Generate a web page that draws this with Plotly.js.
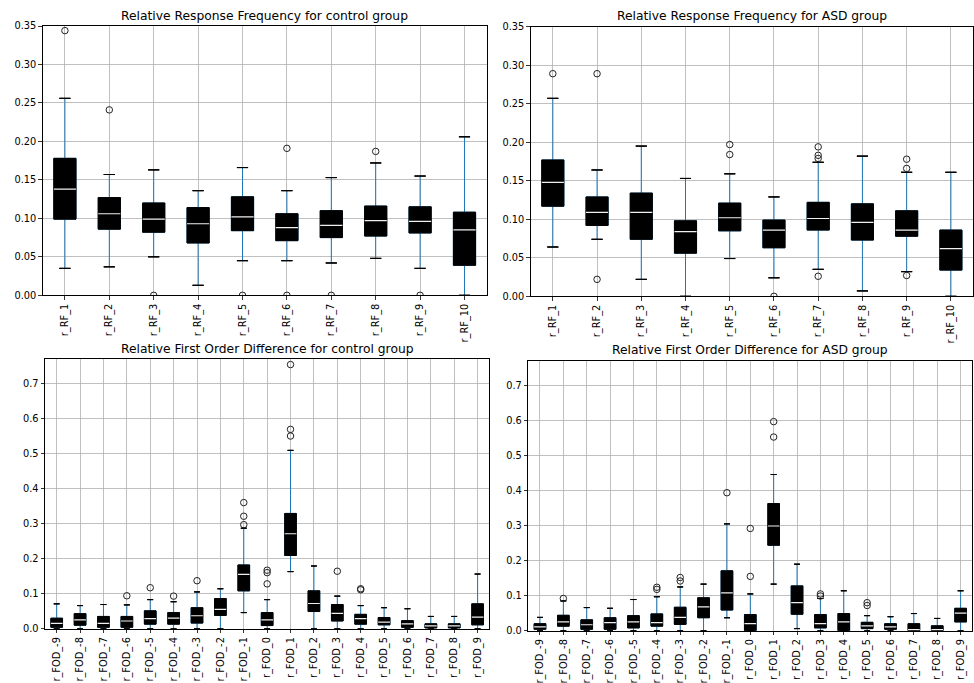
<!DOCTYPE html>
<html>
<head>
<meta charset="utf-8">
<script src="https://cdn.plot.ly/plotly-3.0.1.min.js"></script>
<style>html,body{margin:0;padding:0;background:#fff;}#chart{width:974px;height:683px;}</style>
</head>
<body>
<div id="chart"></div>
<script>
// ---------- Data ----------
const rfCats = ['r_RF_1','r_RF_2','r_RF_3','r_RF_4','r_RF_5','r_RF_6','r_RF_7','r_RF_8','r_RF_9','r_RF_10'];

const rfCtrlLo  = [0.035, 0.037, 0.050, 0.013, 0.045, 0.045, 0.042, 0.048, 0.035, 0.000];
const rfCtrlQ1  = [0.099, 0.086, 0.082, 0.068, 0.084, 0.071, 0.075, 0.077, 0.081, 0.039];
const rfCtrlMed = [0.138, 0.106, 0.099, 0.093, 0.102, 0.088, 0.091, 0.097, 0.096, 0.085];
const rfCtrlQ3  = [0.178, 0.127, 0.120, 0.114, 0.128, 0.106, 0.110, 0.116, 0.115, 0.108];
const rfCtrlHi  = [0.256, 0.157, 0.163, 0.136, 0.166, 0.136, 0.153, 0.172, 0.155, 0.206];
const rfCtrlOutX = ['r_RF_1','r_RF_2','r_RF_3','r_RF_5','r_RF_6','r_RF_6','r_RF_7','r_RF_8','r_RF_9'];
const rfCtrlOutY = [0.344, 0.241, 0.000, 0.000, 0.191, 0.000, 0.000, 0.187, 0.000];

const rfAsdLo  = [0.064, 0.074, 0.022, 0.000, 0.049, 0.024, 0.035, 0.007, 0.032, 0.000];
const rfAsdQ1  = [0.117, 0.092, 0.074, 0.056, 0.085, 0.063, 0.086, 0.073, 0.078, 0.034];
const rfAsdMed = [0.148, 0.109, 0.109, 0.084, 0.102, 0.086, 0.101, 0.096, 0.086, 0.062];
const rfAsdQ3  = [0.177, 0.129, 0.134, 0.098, 0.121, 0.099, 0.122, 0.120, 0.111, 0.086];
const rfAsdHi  = [0.257, 0.164, 0.195, 0.153, 0.159, 0.129, 0.174, 0.182, 0.161, 0.161];
const rfAsdOutX = ['r_RF_1','r_RF_2','r_RF_2','r_RF_5','r_RF_5','r_RF_6','r_RF_7','r_RF_7','r_RF_7','r_RF_7','r_RF_9','r_RF_9','r_RF_9'];
const rfAsdOutY = [0.289, 0.289, 0.022, 0.197, 0.184, 0.000, 0.194, 0.183, 0.179, 0.026, 0.178, 0.166, 0.027];

const fodCats = ['r_FOD_-9','r_FOD_-8','r_FOD_-7','r_FOD_-6','r_FOD_-5','r_FOD_-4','r_FOD_-3','r_FOD_-2','r_FOD_-1','r_FOD_0',
                 'r_FOD_1','r_FOD_2','r_FOD_3','r_FOD_4','r_FOD_5','r_FOD_6','r_FOD_7','r_FOD_8','r_FOD_9'];

const fodCtrlLo  = [0, 0, 0, 0, 0, 0, 0, 0, 0.046, 0, 0.163, 0, 0, 0, 0, 0, 0, 0, 0];
const fodCtrlQ1  = [0.004, 0.010, 0.004, 0.004, 0.013, 0.013, 0.016, 0.038, 0.108, 0.009, 0.209, 0.049, 0.022, 0.013, 0.011, 0.004, 0.002, 0.002, 0.011];
const fodCtrlMed = [0.015, 0.025, 0.015, 0.022, 0.029, 0.030, 0.037, 0.055, 0.155, 0.025, 0.271, 0.072, 0.044, 0.029, 0.019, 0.014, 0.008, 0.008, 0.033];
const fodCtrlQ3  = [0.030, 0.043, 0.035, 0.035, 0.051, 0.046, 0.060, 0.086, 0.182, 0.046, 0.329, 0.108, 0.069, 0.041, 0.032, 0.023, 0.014, 0.014, 0.071];
const fodCtrlHi  = [0.071, 0.066, 0.069, 0.068, 0.083, 0.077, 0.105, 0.114, 0.287, 0.083, 0.509, 0.179, 0.093, 0.066, 0.060, 0.057, 0.035, 0.035, 0.156];
const fodCtrlOutX = ['r_FOD_-6','r_FOD_-5','r_FOD_-4','r_FOD_-3','r_FOD_-1','r_FOD_-1','r_FOD_-1','r_FOD_0','r_FOD_0','r_FOD_0','r_FOD_1','r_FOD_1','r_FOD_1','r_FOD_3','r_FOD_4','r_FOD_4'];
const fodCtrlOutY = [0.094, 0.117, 0.093, 0.137, 0.360, 0.321, 0.297, 0.167, 0.160, 0.128, 0.754, 0.569, 0.550, 0.164, 0.114, 0.111];

const fodAsdLo  = [0, 0, 0, 0, 0, 0, 0, 0, 0.037, 0, 0.133, 0.006, 0, 0, 0, 0, 0, 0, 0];
const fodAsdQ1  = [0.004, 0.013, 0.004, 0.004, 0.008, 0.013, 0.018, 0.037, 0.059, 0.000, 0.244, 0.047, 0.008, 0.000, 0.006, 0.004, 0.000, 0.000, 0.025];
const fodAsdMed = [0.011, 0.025, 0.017, 0.023, 0.025, 0.023, 0.038, 0.068, 0.108, 0.020, 0.299, 0.080, 0.020, 0.025, 0.014, 0.011, 0.003, 0.003, 0.050];
const fodAsdQ3  = [0.020, 0.044, 0.031, 0.037, 0.043, 0.048, 0.067, 0.094, 0.171, 0.046, 0.363, 0.128, 0.046, 0.049, 0.024, 0.020, 0.020, 0.014, 0.064];
const fodAsdHi  = [0.038, 0.085, 0.066, 0.064, 0.089, 0.097, 0.125, 0.133, 0.305, 0.105, 0.446, 0.190, 0.092, 0.114, 0.043, 0.040, 0.049, 0.035, 0.114];
const fodAsdOutX = ['r_FOD_-8','r_FOD_-4','r_FOD_-4','r_FOD_-3','r_FOD_-3','r_FOD_-1','r_FOD_0','r_FOD_0','r_FOD_1','r_FOD_1','r_FOD_3','r_FOD_3','r_FOD_5','r_FOD_5'];
const fodAsdOutY = [0.092, 0.124, 0.118, 0.152, 0.142, 0.394, 0.292, 0.155, 0.597, 0.553, 0.105, 0.099, 0.080, 0.072];

const titles = ['Relative Response Frequency for control group', 'Relative Response Frequency for ASD group',
                'Relative First Order Difference for control group', 'Relative First Order Difference for ASD group'];

// ---------- Build ----------
const W = 974, H = 683;
const FONT = 'DejaVu Sans, Liberation Sans, sans-serif';
const BLUE = '#1f77b4';

function panel(xa, ya, cats, lo, q1, med, q3, hi, ox, oy) {
  const base = {type: 'box', x: cats, xaxis: xa, yaxis: ya, hoverinfo: 'skip', showlegend: false};
  return [
    // whiskers
    Object.assign({}, base, {q1: q1, median: med, q3: q3, lowerfence: lo, upperfence: hi,
      width: 0.5, whiskerwidth: 0, line: {color: BLUE, width: 1}, fillcolor: 'black'}),
    // upper caps
    Object.assign({}, base, {q1: hi, median: hi, q3: hi, lowerfence: hi, upperfence: hi,
      width: 0.25, whiskerwidth: 0, line: {color: 'black', width: 1}, fillcolor: 'black'}),
    // lower caps
    Object.assign({}, base, {q1: lo, median: lo, q3: lo, lowerfence: lo, upperfence: lo,
      width: 0.25, whiskerwidth: 0, line: {color: 'black', width: 1}, fillcolor: 'black'}),
    // box body
    Object.assign({}, base, {q1: q1, median: med, q3: q3, lowerfence: q1, upperfence: q3,
      width: 0.5, whiskerwidth: 0, line: {color: 'black', width: 1}, fillcolor: 'black'}),
    // median
    Object.assign({}, base, {q1: med, median: med, q3: med, lowerfence: med, upperfence: med,
      width: 0.5, whiskerwidth: 0, line: {color: '#f0f0f0', width: 1.2}, fillcolor: 'white'}),
    // fliers
    {type: 'scatter', mode: 'markers', x: ox, y: oy, xaxis: xa, yaxis: ya, hoverinfo: 'skip', showlegend: false,
      marker: {symbol: 'circle-open', size: 6.5, color: '#222', line: {width: 1, color: '#222'}}}
  ];
}

const data = [].concat(
  panel('x', 'y', rfCats, rfCtrlLo, rfCtrlQ1, rfCtrlMed, rfCtrlQ3, rfCtrlHi, rfCtrlOutX, rfCtrlOutY),
  panel('x2', 'y2', rfCats, rfAsdLo, rfAsdQ1, rfAsdMed, rfAsdQ3, rfAsdHi, rfAsdOutX, rfAsdOutY),
  panel('x3', 'y3', fodCats, fodCtrlLo, fodCtrlQ1, fodCtrlMed, fodCtrlQ3, fodCtrlHi, fodCtrlOutX, fodCtrlOutY),
  panel('x4', 'y4', fodCats, fodAsdLo, fodAsdQ1, fodAsdMed, fodAsdQ3, fodAsdHi, fodAsdOutX, fodAsdOutY)
);

// pixel boxes of the four plot areas [left, right, top, bottom]
const boxes = [[42.7, 486.7, 26.0, 295.3], [530.7, 973.0, 26.7, 296.3], [45.0, 489.3, 359.3, 628.7], [528.3, 972.3, 360.7, 630.7]];

function xax(b, ya, cats) {
  return {domain: [b[0] / W, b[1] / W], anchor: ya, type: 'category', range: [-0.5, cats.length - 0.5],
    showline: true, mirror: true, linecolor: 'black', linewidth: 1,
    showgrid: true, gridcolor: '#b0b0b0', gridwidth: 0.8,
    ticks: 'outside', ticklen: 3.5, tickwidth: 0.8, tickcolor: 'black',
    tickangle: -90, tickfont: {family: FONT, size: 9.8, color: 'black'}, fixedrange: true};
}
function yax(b, xa, range, dtick, fmt) {
  return {domain: [1 - b[3] / H, 1 - b[2] / H], anchor: xa, range: range, dtick: dtick, tick0: 0, tickformat: fmt,
    showline: true, mirror: true, linecolor: 'black', linewidth: 1, zeroline: false,
    showgrid: true, gridcolor: '#b0b0b0', gridwidth: 0.8,
    ticks: 'outside', ticklen: 3.5, tickwidth: 0.8, tickcolor: 'black',
    tickfont: {family: FONT, size: 9.8, color: 'black'}, fixedrange: true};
}

const titleY = [16, 16.5, 348.5, 350];
const annotations = boxes.map((b, i) => ({
  text: titles[i], xref: 'paper', yref: 'paper', x: (b[0] + b[1]) / 2 / W, y: 1 - titleY[i] / H,
  xanchor: 'center', yanchor: 'middle', showarrow: false, font: {family: FONT, size: 12.3, color: 'black'}
}));

const layout = {
  width: W, height: H, margin: {l: 0, r: 0, t: 0, b: 0},
  paper_bgcolor: 'white', plot_bgcolor: 'white', showlegend: false, boxmode: 'overlay',
  xaxis: xax(boxes[0], 'y', rfCats), yaxis: yax(boxes[0], 'x', [0, 0.35], 0.05, '.2f'),
  xaxis2: xax(boxes[1], 'y2', rfCats), yaxis2: yax(boxes[1], 'x2', [0, 0.35], 0.05, '.2f'),
  xaxis3: xax(boxes[2], 'y3', fodCats), yaxis3: yax(boxes[2], 'x3', [0, 0.769], 0.1, '.1f'),
  xaxis4: xax(boxes[3], 'y4', fodCats), yaxis4: yax(boxes[3], 'x4', [0, 0.771], 0.1, '.1f'),
  annotations: annotations
};

Plotly.newPlot('chart', data, layout, {staticPlot: true, displayModeBar: false});
</script>
</body>
</html>
